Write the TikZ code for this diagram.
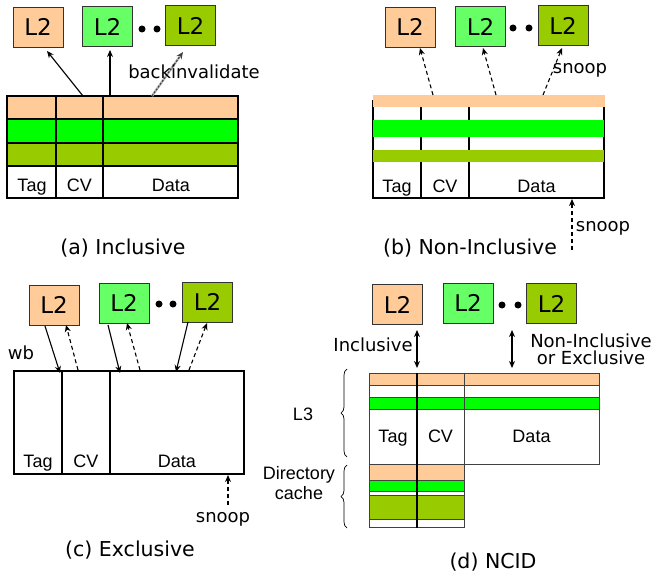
\documentclass[tikz,border=0pt]{standalone}
\usepackage{fontspec}
\usetikzlibrary{arrows.meta,decorations.pathreplacing,calc}
\newfontfamily\dv{DejaVu Sans}
\newfontfamily\ls{Liberation Sans}
\definecolor{peach}{HTML}{FFCC99}
\definecolor{lgreen}{HTML}{66FF66}
\definecolor{olive}{HTML}{99CC00}
\definecolor{bgreen}{HTML}{00FF00}
\tikzset{
  ltwo/.style={draw=black!80, line width=0.8pt, minimum width=50pt, minimum height=40pt, inner sep=0pt, font=\dv\fontsize{23}{23}\selectfont},
  dotn/.style={circle, fill=black, inner sep=0pt, minimum size=7pt},
  cell/.style={font=\ls\fontsize{18}{18}\selectfont, inner sep=0pt, anchor=base},
  lab/.style={font=\dv\fontsize{18}{18}\selectfont, inner sep=0pt},
  captxt/.style={font=\dv\fontsize{20.5}{20.5}\selectfont, inner sep=0pt},
  arr/.style={line width=1.1pt, -{Stealth[length=7pt,width=6pt]}},
  darr/.style={arr, dash pattern=on 4pt off 3pt},
  thickline/.style={line width=1.9pt},
}
\begin{document}
\begin{tikzpicture}[x=1pt,y=-1pt]
\useasboundingbox (0,0) rectangle (653,575);
% ================= (a) Inclusive
\node[ltwo, fill=peach] (a1) at (38,27) {L2};
\node[ltwo, fill=lgreen] (a2) at (107.5,26.5) {L2};
\node[ltwo, fill=olive] (a3) at (190.5,25.5) {L2};
\node[dotn] (ad1) at (142,29) {};
\node[dotn] (ad2) at (157,29) {};
\fill[peach] (7,96) rectangle (238,119);
\fill[bgreen] (7,119) rectangle (238,143);
\fill[olive] (7,143) rectangle (238,166);
\draw[thickline] (7,96) rectangle (238,198);
\draw[thickline] (7,119) -- (238,119) (7,143) -- (238,143) (7,166) -- (238,166);
\draw[thickline] (56,96) -- (56,198) (103,96) -- (103,198);
\node[cell] (atag) at (32,191) {Tag};
\node[cell] (acv) at (79.5,191) {CV};
\node[cell] (adata) at (171,191) {Data};
\coordinate (as1) at (83,96);
\coordinate (as2) at (110,96);
\coordinate (as3) at (152,96);
\coordinate (ae1) at (47,51);
\coordinate (ae2) at (110,50);
\coordinate (ae3) at (183,52);
\draw[arr] (as1) -- (ae1);
\draw[arr] (as2) -- (ae2);
\draw[line width=2.4pt, gray!55] (as3) -- ($(ae3)!5pt!(as3)$);
\draw[arr, black!75, dash pattern=on 2pt off 1.5pt] (as3) -- (ae3);
\node[lab] (backinv) at (194,72) {backinvalidate};
\node[captxt] (capa) at (123,248) {(a) Inclusive};
% ================= (b) Non-Inclusive
\node[ltwo, fill=peach] (b1) at (410,27) {L2};
\node[ltwo, fill=lgreen] (b2) at (480.5,26.5) {L2};
\node[ltwo, fill=olive] (b3) at (563,25.5) {L2};
\node[dotn] (bd1) at (513,28) {};
\node[dotn] (bd2) at (529,28) {};
\draw[thickline] (373,100) -- (373,198) -- (604,198) -- (604,100);
\draw[thickline] (421,100) -- (421,198) (469,100) -- (469,198);
\fill[peach] (373,95) rectangle (605,107);
\fill[bgreen] (373,120) rectangle (604,137);
\fill[olive] (373,150) rectangle (604,162);
\node[cell] (btag) at (397,192) {Tag};
\node[cell] (bcv) at (445,192) {CV};
\node[cell] (bdata) at (536.5,192) {Data};
\coordinate (bs1) at (433,95);
\coordinate (bs2) at (496,95);
\coordinate (bs3) at (543,95);
\coordinate (be1) at (420,48);
\coordinate (be2) at (483,48);
\coordinate (be3) at (562,48);
\draw[darr] (bs1) -- (be1);
\draw[darr] (bs2) -- (be2);
\draw[darr] (bs3) -- (be3);
\node[lab] (bsnoop1) at (580,70) {snoop};
\coordinate (bsn) at (572,250);
\coordinate (bsne) at (572,199);
\draw[darr] (bsn) -- (bsne);
\node[lab] (bsnoop2) at (603,228) {snoop};
\node[captxt] (capb) at (470,248) {(b) Non-Inclusive};
% ================= (c) Exclusive
\node[ltwo, fill=peach] (c1) at (54,305) {L2};
\node[ltwo, fill=lgreen] (c2) at (124,303) {L2};
\node[ltwo, fill=olive] (c3) at (207.5,302) {L2};
\node[dotn] (cd1) at (159,304) {};
\node[dotn] (cd2) at (173,304) {};
\draw[thickline] (14,371) rectangle (244,474);
\draw[thickline] (62,371) -- (62,474) (110,371) -- (110,474);
\node[cell] (ctag) at (38,467) {Tag};
\node[cell] (ccv) at (86,467) {CV};
\node[cell] (cdata) at (177,467) {Data};
\coordinate (cw1) at (45,326);
\coordinate (cw1e) at (60,373);
\coordinate (cw2) at (108,325);
\coordinate (cw2e) at (120,373);
\coordinate (cw3) at (188,322);
\coordinate (cw3e) at (176,372);
\coordinate (cs1) at (78,370);
\coordinate (cs1e) at (66,325);
\coordinate (cs2) at (140,370);
\coordinate (cs2e) at (127,323);
\coordinate (cs3) at (189,370);
\coordinate (cs3e) at (207,323);
\draw[arr] (cw1) -- (cw1e);
\draw[arr] (cw2) -- (cw2e);
\draw[arr] (cw3) -- (cw3e);
\draw[darr] (cs1) -- (cs1e);
\draw[darr] (cs2) -- (cs2e);
\draw[darr] (cs3) -- (cs3e);
\node[lab] (wb) at (21,353) {wb};
\coordinate (csn) at (228,505);
\coordinate (csne) at (228,475);
\draw[darr] (csn) -- (csne);
\node[lab] (csnoop) at (223,519) {snoop};
\node[captxt] (capc) at (130,550) {(c) Exclusive};
% ================= (d) NCID
\node[ltwo, fill=peach] (d1) at (397.5,304.5) {L2};
\node[ltwo, fill=lgreen] (d2) at (468,303) {L2};
\node[ltwo, fill=olive] (d3) at (551.5,303.5) {L2};
\node[dotn] (dd1) at (502,305) {};
\node[dotn] (dd2) at (518,305) {};
\coordinate (dat) at (417,330);
\coordinate (dab) at (417,368);
\coordinate (dbt) at (512,330);
\coordinate (dbb) at (512,368);
\draw[line width=1.1pt, {Stealth[length=7pt,width=6pt]}-{Stealth[length=7pt,width=6pt]}] (dat) -- (dab);
\draw[line width=1.1pt, {Stealth[length=7pt,width=6pt]}-{Stealth[length=7pt,width=6pt]}] (dbt) -- (dbb);
\node[lab] (dinc) at (373,345) {Inclusive};
\node[lab, align=center] (dnon) at (591,349) {Non-Inclusive\\[-1pt]or Exclusive};
% L3
\fill[peach] (369,373) rectangle (599,385);
\fill[bgreen] (369,397) rectangle (599,409);
\draw[black!75, line width=0.8pt] (369,373) rectangle (599,464);
\draw[black!75, line width=0.8pt] (369,385) -- (599,385) (369,397) -- (599,397) (369,409) -- (599,409);
\draw[black!75, line width=0.8pt] (464,373) -- (464,464);
\node[cell] (dtag) at (393,442) {Tag};
\node[cell] (dcv) at (440.5,442) {CV};
\node[cell] (ddata) at (531.5,442) {Data};
% Directory
\fill[peach] (369,464) rectangle (464,480);
\fill[bgreen] (369,481) rectangle (464,491);
\fill[olive] (369,495) rectangle (464,519);
\draw[black!75, line width=0.8pt] (369,464) rectangle (464,527);
\draw[black!75, line width=0.8pt] (369,480.5) -- (464,480.5) (369,491) -- (464,491) (369,495) -- (464,495) (369,519) -- (464,519);
\draw[line width=1.3pt] (417,373) -- (417,528);
% braces
\draw[line width=0.7pt, decorate, decoration={brace, amplitude=6pt}] (347,457) -- (347,369);
\draw[line width=0.7pt, decorate, decoration={brace, amplitude=6pt}] (347,528) -- (347,465);
\node[cell, anchor=center] (l3) at (303,414) {L3};
\node[cell, anchor=center, align=center] (dircache) at (299,483) {Directory\\[2pt]cache};
\node[captxt] (capd) at (493,562) {(d) NCID};
\end{tikzpicture}
\end{document}
